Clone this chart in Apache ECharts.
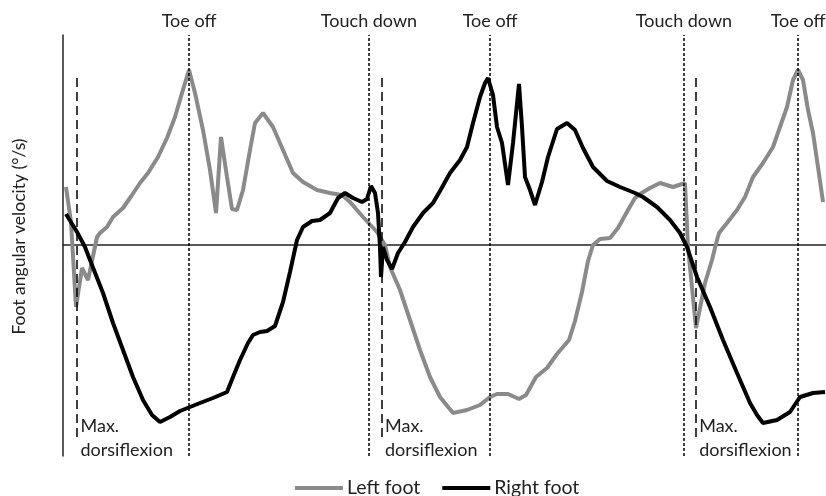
<!DOCTYPE html>
<html>
  <head>
    <meta charset="utf-8">
    <title></title>
    <style>
      html, body{ margin: 0; padding: 0; background: #fff; }
      #wrap{ width: 826px; height: 496px; }
    </style>
    <script src="https://cdn.jsdelivr.net/npm/echarts@6/dist/echarts.min.js" charset="utf-8"></script>
  </head>
  <body>
    <div id="wrap"></div>
    <script>
    // traced curves: [time, angular velocity] (arbitrary units, 0 = neutral)
      var leftFoot = [
        [3,58],[8,23],[13,-62],[19,-23],[25,-35],[34,8],[37,12],[44,18],[50,28],[60,37],
        [69,50],[77,62],[85,72],[95,88],[104,107],[112,128],[119,152],[126,175],[132,152],[140,115],
        [147,75],[153,32],[158,108],[164,68],[169,36],[174,35],[180,55],[187,95],[192,122],[200,132],
        [210,118],[220,95],[230,72],[240,63],[254,55],[267,52],[279,50],[287,43],[300,28],[314,13],
        [322,0],[327,-22],[337,-45],[347,-75],[357,-105],[367,-132],[377,-152],[390,-168],[404,-165],[417,-160],
        [427,-152],[434,-149],[445,-149],[456,-154],[463,-150],[473,-132],[484,-123],[494,-109],[506,-95],[512,-76],
        [519,-47],[525,-16],[530,0],[537,6],[547,7],[555,17],[565,35],[572,47],[577,51],[587,57],
        [597,62],[610,58],[622,62],[625,-2],[633,-83],[642,-38],[649,-15],[654,5],[656,12],[664,22],
        [674,35],[682,48],[690,68],[700,82],[710,98],[717,118],[724,138],[730,165],[735,175],[740,165],
        [745,135],[750,112],[755,78],[760,43]
      ];
      var rightFoot = [
        [3,31],[14,13],[22,-2],[27,-15],[40,-48],[50,-78],[60,-105],[70,-132],[80,-155],[89,-170],
        [97,-177],[107,-172],[117,-166],[127,-162],[137,-158],[150,-153],[164,-147],[170,-132],[177,-115],[185,-98],
        [190,-90],[197,-87],[204,-86],[212,-81],[220,-57],[227,-27],[234,5],[240,18],[249,24],[257,25],
        [267,32],[275,47],[282,52],[290,47],[299,43],[304,46],[308,59],[312,52],[315,32],[317,-3],
        [318,-32],[320,-2],[324,-15],[329,-24],[335,-8],[342,3],[350,18],[360,32],[370,42],[377,54],
        [387,72],[397,85],[404,98],[410,122],[417,148],[422,162],[425,167],[430,150],[434,118],[439,102],
        [445,60],[450,102],[456,161],[459,118],[462,68],[467,55],[472,40],[479,63],[485,88],[494,116],
        [504,122],[512,115],[520,97],[530,78],[544,64],[557,58],[572,52],[580,48],[594,38],[607,25],
        [617,12],[624,-2],[634,-32],[647,-62],[660,-95],[674,-128],[687,-158],[694,-170],[700,-178],[714,-175],
        [727,-167],[737,-152],[750,-148],[762,-147]
      ];

      // gait events (time)
      var toeOffX = [126, 427, 735];
      var touchDownX = [306, 621];
      var dorsiX = [14, 318.5, 632.7];

      var xMin = 0, xMax = 763;
      var yMin = -211, yMax = 210;
      var dorsiTop = 172, dorsiBottom = -192, dorsiLabelY = -193;

      var FONT = 'Lato';

      function eventLines(xs, text){
        return xs.map(function(x){
          return [
            {coord: [x, yMin]},
            {coord: [x, yMax], label: {show: true, formatter: text}}
          ];
        });
      }

      var dorsiLines = dorsiX.map(function(x){
        return [
          {coord: [x, dorsiBottom], label: {show: false}},
          {coord: [x, dorsiTop], label: {show: false}, lineStyle: {type: [9, 5], width: 1.5}}
        ];
      });

      var chart = echarts.init(document.getElementById('wrap'));

      var option = {
        animation: false,
        textStyle: {fontFamily: FONT},
        grid: {left: 63, right: 0, top: 35, bottom: 40, containLabel: false, outerBoundsMode: 'none'},
        legend: {
          data: ['Left foot', 'Right foot'],
          left: 290,
          top: 473,
          icon: 'rect',
          itemWidth: 48,
          itemHeight: 4,
          itemGap: 22,
          textStyle: {fontSize: 19.5, color: '#222', fontFamily: FONT, padding: [0, 0, 0, -1]}
        },
        xAxis: {
          type: 'value',
          min: xMin,
          max: xMax,
          axisLine: {show: true, onZero: true, lineStyle: {color: '#222', width: 1.5}},
          axisTick: {show: false},
          axisLabel: {show: false},
          splitLine: {show: false}
        },
        yAxis: {
          type: 'value',
          min: yMin,
          max: yMax,
          name: 'Foot angular velocity (°/s)',
          nameLocation: 'middle',
          nameGap: 35,
          nameTextStyle: {fontSize: 17.5, color: '#222', fontFamily: FONT, padding: [0, 0, 0, 18]},
          axisLine: {show: true, lineStyle: {color: '#222', width: 1.5}},
          axisTick: {show: false},
          axisLabel: {show: false},
          splitLine: {show: false}
        },
        series: [
          {
            name: 'Left foot',
            type: 'line',
            data: leftFoot,
            showSymbol: false,
            color: '#8a8a8a',
            lineStyle: {color: '#8a8a8a', width: 4},
            z: 2
          },
          {
            name: 'Right foot',
            type: 'line',
            data: rightFoot,
            showSymbol: false,
            color: '#000',
            lineStyle: {color: '#000', width: 4},
            z: 3
          },
          {
            name: 'events',
            type: 'line',
            data: [],
            z: 5,
            markLine: {
              silent: true,
              symbol: ['none', 'none'],
              animation: false,
              lineStyle: {color: '#000', type: [3, 2], width: 1.5},
              label: {
                show: true,
                position: 'end',
                distance: 5,
                fontSize: 18,
                color: '#222',
                fontFamily: FONT
              },
              emphasis: {disabled: true},
              data: eventLines(toeOffX, 'Toe off')
                .concat(eventLines(touchDownX, 'Touch down'))
                .concat(dorsiLines)
            },
            markPoint: {
              silent: true,
              symbol: 'circle',
              symbolSize: 1,
              itemStyle: {color: 'rgba(0,0,0,0)'},
              label: {
                show: true,
                position: 'right',
                distance: 3,
                align: 'left',
                formatter: 'Max.\ndorsiflexion',
                fontSize: 18,
                lineHeight: 24,
                color: '#222',
                fontFamily: FONT
              },
              data: dorsiX.map(function(x){ return {coord: [x, dorsiLabelY]}; })
            }
          }
        ]
      };
      chart.setOption(option);
    </script>
  </body>
</html>
